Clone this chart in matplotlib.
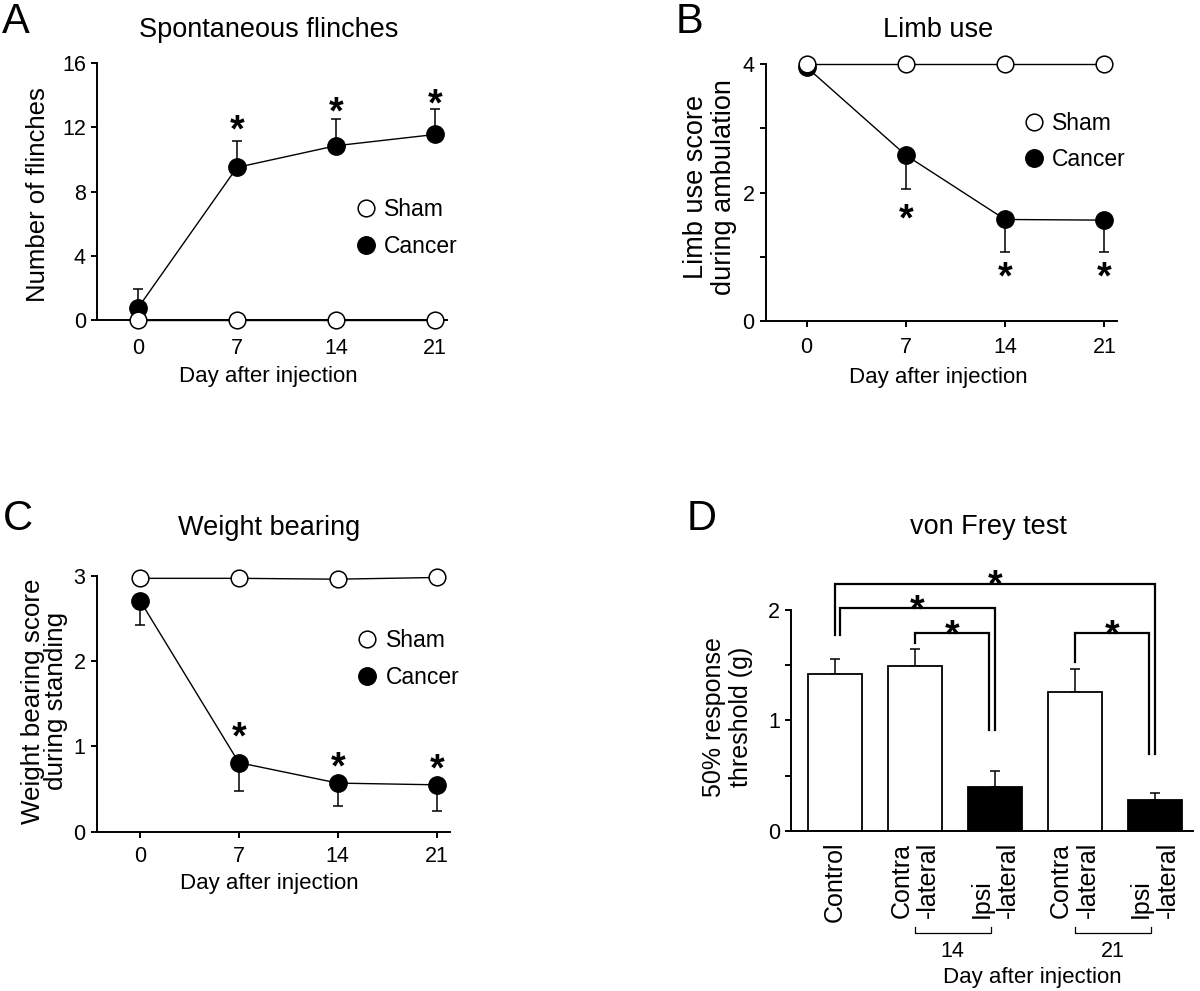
import matplotlib
matplotlib.use("Agg")
import matplotlib.pyplot as plt
import matplotlib.transforms as mtransforms
import numpy as np

plt.rcParams['font.family'] = ['Liberation Sans', 'DejaVu Sans']

# --- data ---
days = [0, 7, 14, 21]

# A: spontaneous flinches
flinch_sham = [0, 0, 0, 0]
flinch_cancer = [0.75, 9.5, 10.85, 11.55]
flinch_err = [1.15, 1.65, 1.65, 1.6]
flinch_star_y = [None, 12.45, 13.6, 14.1]

# B: limb use
limb_sham = [4, 4, 4, 4]
limb_cancer = [3.95, 2.58, 1.58, 1.57]
limb_err = [0, 0.52, 0.51, 0.5]
limb_star_y = [None, 1.75, 0.85, 0.85]

# C: weight bearing
weight_sham = [2.97, 2.97, 2.96, 2.98]
weight_cancer = [2.71, 0.81, 0.57, 0.55]
weight_err = [0.29, 0.33, 0.27, 0.31]
weight_star_y = [None, 1.23, 0.88, 0.85]

# D: von Frey test
vf_labels = ['Control', 'Contra\n-lateral', 'Ipsi\n-lateral', 'Contra\n-lateral', 'Ipsi\n-lateral']
vf_values = [1.42, 1.49, 0.40, 1.26, 0.28]
vf_err = [0.14, 0.16, 0.14, 0.21, 0.06]
vf_colors = ['white', 'white', 'black', 'white', 'black']
vf_groups = [('14', 1, 2), ('21', 3, 4)]
# (x_left, x_right, y_top, y_left_end, y_right_end, star_y)
vf_brackets = [
    (0.0, 4.0, 2.235, 1.77, 0.70, 2.32),
    (0.07, 2.0, 2.02, 1.77, 0.91, 2.09),
    (1.0, 1.93, 1.795, 1.70, 0.91, 1.87),
    (3.0, 3.93, 1.795, 1.53, 0.70, 1.87),
]

TICK = 15.5
LAB = 16
TITLE = 19.5
STAR = 27
LW = 1.4

fig = plt.figure(figsize=(12, 9.91), dpi=100)


def star(ax, x, y):
    ax.annotate('*', (x, y), xytext=(0, -0.58 * STAR), textcoords='offset points',
                ha='center', va='baseline', fontsize=STAR, fontweight='bold',
                annotation_clip=False)


def style(ax):
    for s in ['top', 'right']:
        ax.spines[s].set_visible(False)
    for s in ['left', 'bottom']:
        ax.spines[s].set_linewidth(LW)
    ax.tick_params(labelsize=TICK, width=LW, length=4.5)


def line_panel(ax, sham, cancer, err, stars, up, xt_len, xt_pad):
    lo = [0] * len(err)
    yerr = [lo, err] if up else [err, lo]
    ax.errorbar(days, cancer, yerr=yerr, fmt='none', ecolor='black',
                elinewidth=1.1, capsize=3.5, capthick=1.1, zorder=2, clip_on=False)
    ax.plot(days, cancer, '-o', color='black', lw=1.0, ms=12.5,
            mfc='black', mec='black', zorder=3, clip_on=False, label='Cancer')
    ax.plot(days, sham, '-o', color='black', lw=1.0, ms=12,
            mfc='white', mec='black', mew=1.1, zorder=4, clip_on=False, label='Sham')
    for d, s in zip(days, stars):
        if s is not None:
            star(ax, d, s)
    ax.set_xticks(days)
    style(ax)
    ax.tick_params(axis='x', length=xt_len, pad=xt_pad)
    ax.set_xlabel('Day after injection', fontsize=LAB, va='top')


def legend(ax, x, y):
    h, l = ax.get_legend_handles_labels()
    h2 = []
    for hh in h[::-1]:
        hh2 = plt.Line2D([], [], ls='none', marker='o', ms=hh.get_markersize(),
                         mfc=hh.get_markerfacecolor(), mec='black', mew=1.1)
        h2.append(hh2)
    ax.legend(h2, l[::-1], loc='center left', bbox_to_anchor=(x, y), frameon=False,
              fontsize=16.5, handlelength=1.0, handletextpad=0.3, labelspacing=0.6,
              borderpad=0, borderaxespad=0)


# ---- A ----
axA = fig.add_axes([0.0808, 0.6771, 0.2917, 0.2593])
line_panel(axA, flinch_sham, flinch_cancer, flinch_err, flinch_star_y, True, 0, 13)
axA.set_xlim(-2.9, 21.85)
axA.set_ylim(0, 16)
axA.set_yticks([0, 4, 8, 12, 16])
axA.set_ylabel('Number of flinches', fontsize=18.5)
axA.yaxis.set_label_coords(-0.134, 0.49)
axA.xaxis.set_label_coords(0.49, -0.18)
axA.text(0.49, 1.101, 'Spontaneous flinches', transform=axA.transAxes,
         ha='center', va='baseline', fontsize=TITLE)
legend(axA, 0.735, 0.358)

# ---- B ----
axB = fig.add_axes([0.6381, 0.6761, 0.2928, 0.2593])
line_panel(axB, limb_sham, limb_cancer, limb_err, limb_star_y, False, 4.5, 7)
axB.set_xlim(-2.89, 21.9)
axB.set_ylim(0, 4)
axB.set_yticks([0, 1, 2, 3, 4], ['0', '', '2', '', '4'])
axB.set_ylabel('Limb use score\nduring ambulation', fontsize=19.5, linespacing=1.12)
axB.yaxis.set_label_coords(-0.082, 0.52)
axB.xaxis.set_label_coords(0.49, -0.18)
axB.text(0.49, 1.106, 'Limb use', transform=axB.transAxes,
         ha='center', va='baseline', fontsize=TITLE)
legend(axB, 0.731, 0.698)

# ---- C ----
axC = fig.add_axes([0.0806, 0.1607, 0.2944, 0.2583])
line_panel(axC, weight_sham, weight_cancer, weight_err, weight_star_y, False, 4.5, 6)
axC.set_xlim(-3.06, 21.94)
axC.set_ylim(0, 3)
axC.set_yticks([0, 1, 2, 3])
axC.set_ylabel('Weight bearing score\nduring standing', fontsize=18.7, linespacing=0.98)
axC.yaxis.set_label_coords(-0.080, 0.51)
axC.xaxis.set_label_coords(0.489, -0.163)
axC.text(0.488, 1.159, 'Weight bearing', transform=axC.transAxes,
         ha='center', va='baseline', fontsize=TITLE)
legend(axC, 0.734, 0.674)

# ---- D ----
axD = fig.add_axes([0.6592, 0.1615, 0.335, 0.2230])
xpos = np.arange(len(vf_values))
axD.bar(xpos, vf_values, width=0.675, color=vf_colors, edgecolor='black',
        linewidth=1.3, zorder=2)
axD.errorbar(xpos, vf_values, yerr=[[0] * len(vf_err), vf_err], fmt='none',
             ecolor='black', elinewidth=1.1, capsize=3.6, capthick=1.1, zorder=1)
axD.set_xlim(-0.546, 4.48)
axD.set_ylim(0, 2)
axD.set_yticks([0, 0.5, 1, 1.5, 2], ['0', '', '1', '', '2'])
style(axD)
axD.set_xticks(xpos)
axD.set_xticklabels(vf_labels, rotation=90, ha='center', va='top',
                    multialignment='left', fontsize=18, linespacing=1.15)
axD.tick_params(axis='x', length=0, pad=7.5)
axD.set_ylabel('50% response\nthreshold (g)', fontsize=18, linespacing=1.18)
axD.yaxis.set_label_coords(-0.094, 0.517)
axD.text(0.49, 1.344, 'von Frey test', transform=axD.transAxes,
         ha='center', va='baseline', fontsize=TITLE)

for xl, xr, yt, yl, yr, sy in vf_brackets:
    axD.plot([xl, xl, xr, xr], [yl, yt, yt, yr], color='black', lw=1.6,
             clip_on=False, solid_joinstyle='miter')
    star(axD, (xl + xr) / 2, sy)

trD = mtransforms.blended_transform_factory(axD.transData, axD.transAxes)
for lab, i, j in vf_groups:
    axD.plot([i, i, j - 0.05, j - 0.05], [-0.433, -0.46, -0.46, -0.433],
             color='black', lw=0.9, transform=trD, clip_on=False)
    axD.text((i + j - 0.05) / 2, -0.546, lab, transform=trD, ha='center',
             va='center', fontsize=TICK)
axD.text(0.599, -0.614, 'Day after injection', transform=axD.transAxes,
         ha='center', va='top', fontsize=LAB)

# panel letters
for x, y, s in [(0.002, 0.967, 'A'), (0.563, 0.967, 'B'),
                (0.002, 0.465, 'C'), (0.572, 0.465, 'D')]:
    fig.text(x, y, s, fontsize=30, ha='left', va='baseline')

fig.savefig('out.png', dpi=100)
